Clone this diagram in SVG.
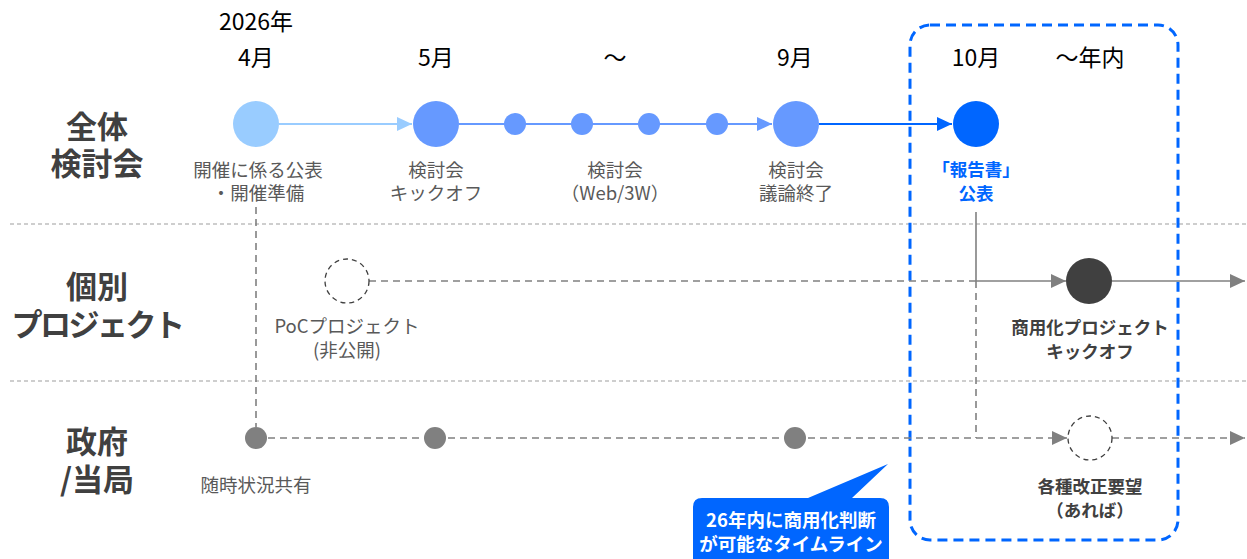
<svg xmlns="http://www.w3.org/2000/svg" width="1247" height="559" viewBox="0 0 1247 559">
<defs>
<style>
text{font-family:"Noto Sans CJK JP","Noto Sans",sans-serif;text-anchor:middle}
.month{font-size:23px;fill:#000}
.title{font-size:31px;font-weight:bold;fill:#404040}
.lbl{font-size:18.5px;fill:#595959}
.blbl{font-size:17.5px;font-weight:bold;fill:#404040}
.div{stroke:#BFBFBF;stroke-width:1.3;stroke-dasharray:4 3;fill:none}
.gd{stroke:#808080;stroke-width:1.6;stroke-dasharray:7 5;fill:none}
.gs{stroke:#808080;stroke-width:1.6;fill:none}
</style>
<marker id="aLight" markerUnits="userSpaceOnUse" markerWidth="16" markerHeight="14" refX="15" refY="7" orient="auto"><path d="M0,0 L15,7 L0,14 Z" fill="#99CCFF"/></marker>
<marker id="aMid" markerUnits="userSpaceOnUse" markerWidth="16" markerHeight="14" refX="15" refY="7" orient="auto"><path d="M0,0 L15,7 L0,14 Z" fill="#6699FF"/></marker>
<marker id="aBlue" markerUnits="userSpaceOnUse" markerWidth="16" markerHeight="14" refX="15" refY="7" orient="auto"><path d="M0,0 L15,7 L0,14 Z" fill="#0066FF"/></marker>
<marker id="aGray" markerUnits="userSpaceOnUse" markerWidth="16" markerHeight="14" refX="15" refY="7" orient="auto"><path d="M0,0 L15,7 L0,14 Z" fill="#808080"/></marker>
</defs>
<rect width="1247" height="559" fill="#fff"/>

<g id="dividers">
<line class="div" x1="10" y1="224" x2="1247" y2="224"/>
<line class="div" x1="10" y1="381" x2="1247" y2="381"/>
</g>

<g id="months">
<text class="month" x="256" y="30">2026年</text>
<text class="month" x="256" y="66">4月</text>
<text class="month" x="436" y="66">5月</text>
<text class="month" x="615" y="66">～</text>
<text class="month" x="795" y="66">9月</text>
<text class="month" x="976" y="66">10月</text>
<text class="month" x="1090" y="66">～年内</text>
</g>

<g id="row-titles">
<text class="title"><tspan x="97" y="138">全体</tspan><tspan x="97" y="175">検討会</tspan></text>
<text class="title"><tspan x="97" y="298">個別</tspan><tspan x="97" y="336" letter-spacing="-2.5">プロジェクト</tspan></text>
<text class="title"><tspan x="97" y="453">政府</tspan><tspan x="97" y="491">/当局</tspan></text>
</g>

<g id="frame">
<rect x="910" y="25" width="268" height="515" rx="20" ry="20" fill="none" stroke="#0066FF" stroke-width="3" stroke-dasharray="10 6"/>
</g>

<g id="connectors">
<line x1="279" y1="124" x2="412" y2="124" stroke="#99CCFF" stroke-width="2" marker-end="url(#aLight)"/>
<line x1="459" y1="124" x2="772" y2="124" stroke="#6699FF" stroke-width="2" marker-end="url(#aMid)"/>
<line x1="819" y1="124" x2="952" y2="124" stroke="#0066FF" stroke-width="2" marker-end="url(#aBlue)"/>
<line class="gd" x1="256" y1="207" x2="256" y2="427"/>
<line class="gs" x1="976" y1="212" x2="976" y2="281"/>
<line class="gd" x1="976" y1="281" x2="976" y2="438"/>
<line class="gd" x1="369" y1="281" x2="976" y2="281"/>
<line class="gs" x1="976" y1="281" x2="1066" y2="281" marker-end="url(#aGray)"/>
<line class="gs" x1="1112" y1="281" x2="1245" y2="281" marker-end="url(#aGray)"/>
<line class="gd" x1="256" y1="438" x2="976" y2="438"/>
<line class="gd" x1="976" y1="438" x2="1067" y2="438" marker-end="url(#aGray)"/>
<line class="gd" x1="1112" y1="438" x2="1245" y2="438" marker-end="url(#aGray)"/>
</g>

<g id="n-apr">
<circle cx="256" cy="124" r="23" fill="#99CCFF"/>
<text class="lbl" x="258" y="177">開催に係る公表</text>
<text class="lbl" x="258" y="200">・開催準備</text>
</g>
<g id="n-may">
<circle cx="436" cy="124" r="23" fill="#6699FF"/>
<text class="lbl" x="436" y="177">検討会</text>
<text class="lbl" x="436" y="200">キックオフ</text>
</g>
<g id="n-small">
<circle cx="515" cy="124" r="11" fill="#6699FF"/>
<circle cx="582" cy="124" r="11" fill="#6699FF"/>
<circle cx="649" cy="124" r="11" fill="#6699FF"/>
<circle cx="717" cy="124" r="11" fill="#6699FF"/>
<text class="lbl" x="615" y="177">検討会</text>
<text class="lbl" x="615" y="200">（Web/3W）</text>
</g>
<g id="n-sep">
<circle cx="796" cy="124" r="23" fill="#6699FF"/>
<text class="lbl" x="796" y="177">検討会</text>
<text class="lbl" x="796" y="200">議論終了</text>
</g>
<g id="n-oct">
<circle cx="976" cy="124" r="23" fill="#0066FF"/>
<text class="blbl" x="976" y="176" style="fill:#0066FF">「報告書」</text>
<text class="blbl" x="976" y="200" style="fill:#0066FF">公表</text>
</g>
<g id="n-poc">
<circle cx="347" cy="281" r="22" fill="#fff" stroke="#404040" stroke-width="1.3" stroke-dasharray="5 4"/>
<text class="lbl" x="347" y="333">PoCプロジェクト</text>
<text class="lbl" x="347" y="357">(非公開)</text>
</g>
<g id="n-commercial">
<circle cx="1089" cy="281" r="23" fill="#404040"/>
<text class="blbl" x="1090" y="334">商用化プロジェクト</text>
<text class="blbl" x="1090" y="358">キックオフ</text>
</g>
<g id="n-gov">
<circle cx="256" cy="438" r="11" fill="#808080"/>
<circle cx="435" cy="438" r="11" fill="#808080"/>
<circle cx="795" cy="438" r="11" fill="#808080"/>
<text class="lbl" x="256" y="492">随時状況共有</text>
</g>
<g id="n-request">
<circle cx="1090" cy="438" r="22" fill="#fff" stroke="#404040" stroke-width="1.3" stroke-dasharray="5 4"/>
<text class="blbl" x="1090" y="493">各種改正要望</text>
<text class="blbl" x="1090" y="517">（あれば）</text>
</g>
<g id="callout">
<path d="M705,498 H808 L888,464 L852,498 H880 Q889,498 889,507 V559 H693 V507 Q693,498 702,498 Z" fill="#0066FF"/>
<text x="791" y="527" style="font-size:18.5px;font-weight:bold;fill:#fff">26年内に商用化判断</text>
<text x="791" y="551" style="font-size:18.5px;font-weight:bold;fill:#fff">が可能なタイムライン</text>
</g>
</svg>
